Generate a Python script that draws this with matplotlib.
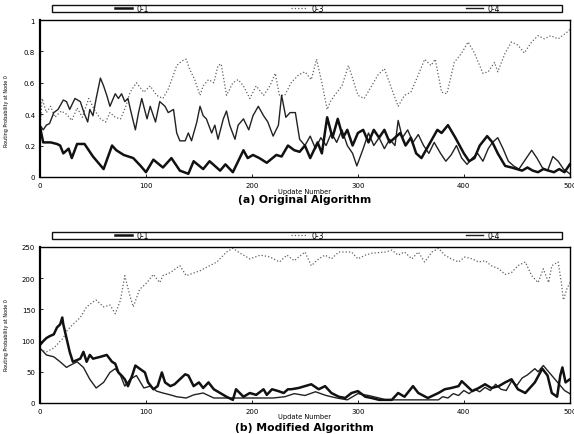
import matplotlib
matplotlib.use('Agg')
import matplotlib.pyplot as plt
from matplotlib.patches import Rectangle
from matplotlib.lines import Line2D

plt.rcParams['font.family'] = ['DejaVu Sans']

# ---------------- data: panel (a) Original Algorithm ----------------
a01_x = [0, 3, 10, 16, 19, 22, 27, 30, 35, 42,
         50, 55, 60, 68, 72, 79, 88, 95, 100, 107,
         116, 124, 132, 140, 145, 154, 160, 170, 175, 182,
         192, 196, 201, 207, 214, 223, 228, 234, 240, 245,
         250, 255, 262, 266, 271, 276, 281, 286, 290, 295,
         300, 305, 310, 315, 320, 325, 330, 335, 340, 345,
         350, 355, 360, 365, 370, 375, 379, 385, 392, 400,
         405, 410, 415, 422, 427, 432, 439, 445, 450, 455,
         460, 465, 470, 475, 480, 485, 490, 495, 500]
a01_y = [0.32, 0.22, 0.22, 0.21, 0.20, 0.15, 0.18, 0.12, 0.21, 0.21,
         0.13, 0.09, 0.05, 0.20, 0.17, 0.14, 0.12, 0.07, 0.03, 0.11,
         0.06, 0.12, 0.04, 0.02, 0.10, 0.05, 0.10, 0.04, 0.08, 0.03,
         0.17, 0.12, 0.14, 0.12, 0.09, 0.14, 0.13, 0.20, 0.17, 0.16,
         0.20, 0.12, 0.22, 0.15, 0.38, 0.25, 0.37, 0.25, 0.30, 0.20,
         0.28, 0.30, 0.22, 0.30, 0.25, 0.30, 0.22, 0.25, 0.28, 0.20,
         0.25, 0.15, 0.12, 0.18, 0.24, 0.30, 0.28, 0.33, 0.25, 0.15,
         0.10, 0.12, 0.20, 0.26, 0.22, 0.15, 0.07, 0.06, 0.05, 0.04,
         0.06, 0.04, 0.03, 0.05, 0.04, 0.03, 0.05, 0.03, 0.08]

a03_x = [0, 2, 6, 10, 14, 20, 25, 30, 35, 40,
         46, 52, 57, 62, 66, 71, 76, 81, 85, 91,
         98, 104, 110, 116, 121, 126, 129, 134, 138, 141,
         146, 151, 154, 159, 164, 168, 171, 176, 182, 187,
         192, 198, 204, 211, 217, 222, 226, 231, 237, 244,
         250, 256, 261, 266, 271, 274, 278, 285, 291, 294,
         300, 306, 313, 319, 325, 332, 338, 344, 350, 357,
         363, 369, 373, 379, 384, 391, 398, 404, 410, 418,
         423, 429, 432, 439, 445, 451, 457, 464, 470, 476,
         482, 489, 497, 500]
a03_y = [0.30, 0.50, 0.41, 0.45, 0.38, 0.42, 0.40, 0.36, 0.44, 0.38,
         0.50, 0.42, 0.37, 0.35, 0.41, 0.38, 0.37, 0.45, 0.54, 0.60,
         0.54, 0.58, 0.52, 0.50, 0.56, 0.65, 0.71, 0.74, 0.75, 0.69,
         0.62, 0.52, 0.58, 0.62, 0.60, 0.71, 0.72, 0.52, 0.60, 0.62,
         0.58, 0.50, 0.58, 0.52, 0.58, 0.66, 0.52, 0.52, 0.60, 0.65,
         0.67, 0.62, 0.75, 0.60, 0.43, 0.48, 0.52, 0.58, 0.71, 0.65,
         0.52, 0.50, 0.58, 0.65, 0.69, 0.56, 0.45, 0.52, 0.54, 0.65,
         0.75, 0.71, 0.75, 0.54, 0.53, 0.73, 0.79, 0.86, 0.79, 0.66,
         0.67, 0.73, 0.67, 0.79, 0.86, 0.84, 0.79, 0.86, 0.90, 0.88,
         0.90, 0.88, 0.92, 0.94]

a04_x = [0, 3, 6, 9, 13, 17, 22, 25, 28, 33,
         38, 42, 45, 47, 50, 53, 57, 60, 63, 66,
         71, 74, 77, 80, 83, 86, 90, 93, 96, 101,
         104, 109, 113, 118, 121, 126, 129, 132, 137, 140,
         143, 148, 151, 154, 157, 162, 165, 168, 173, 176,
         179, 184, 187, 192, 197, 201, 206, 211, 215, 220,
         225, 228, 232, 236, 241, 245, 250, 255, 260, 265,
         270, 275, 280, 285, 290, 295, 299, 305, 310, 315,
         320, 325, 330, 335, 338, 342, 347, 352, 357, 362,
         367, 372, 378, 383, 388, 393, 398, 403, 408, 413,
         418, 423, 427, 432, 437, 442, 447, 452, 457, 464,
         469, 474, 479, 484, 489, 494, 500]
a04_y = [0.33, 0.30, 0.33, 0.34, 0.41, 0.43, 0.49, 0.48, 0.43, 0.50,
         0.48, 0.40, 0.35, 0.43, 0.39, 0.50, 0.63, 0.58, 0.52, 0.45,
         0.53, 0.50, 0.53, 0.48, 0.50, 0.41, 0.30, 0.41, 0.50, 0.37,
         0.45, 0.35, 0.48, 0.45, 0.41, 0.43, 0.28, 0.23, 0.23, 0.28,
         0.23, 0.35, 0.45, 0.39, 0.37, 0.28, 0.33, 0.24, 0.37, 0.42,
         0.33, 0.24, 0.33, 0.37, 0.30, 0.39, 0.45, 0.39, 0.35, 0.26,
         0.33, 0.52, 0.38, 0.41, 0.41, 0.24, 0.20, 0.26, 0.18, 0.25,
         0.20, 0.28, 0.22, 0.30, 0.20, 0.15, 0.07, 0.18, 0.28, 0.20,
         0.25, 0.18, 0.24, 0.20, 0.36, 0.25, 0.30, 0.22, 0.27, 0.20,
         0.15, 0.22, 0.15, 0.10, 0.14, 0.20, 0.12, 0.08, 0.12, 0.15,
         0.10, 0.18, 0.22, 0.25, 0.18, 0.10, 0.07, 0.05, 0.10, 0.17,
         0.12, 0.06, 0.04, 0.13, 0.10, 0.05, 0.02]

# ---------------- data: panel (b) Modified Algorithm ----------------
b01_x = [0, 3, 6, 9, 13, 16, 19, 21, 22, 25,
         28, 31, 38, 41, 44, 47, 50, 57, 63, 68,
         71, 74, 77, 80, 83, 87, 90, 94, 99, 102,
         107, 111, 115, 118, 123, 127, 132, 137, 140, 145,
         150, 154, 159, 164, 170, 176, 182, 185, 192, 198,
         204, 211, 214, 219, 225, 230, 234, 237, 244, 250,
         256, 263, 269, 275, 282, 288, 294, 300, 307, 313,
         320, 326, 332, 338, 344, 352, 357, 366, 376, 382,
         388, 395, 398, 403, 408, 414, 420, 426, 433, 439,
         445, 451, 458, 467, 474, 479, 483, 488, 491, 493,
         496, 500]
b01_y = [93, 99, 104, 107, 110, 121, 126, 137, 126, 104,
         82, 66, 71, 82, 66, 77, 71, 74, 77, 66,
         63, 49, 44, 38, 27, 44, 60, 55, 49, 33,
         22, 27, 49, 33, 27, 30, 38, 46, 44, 27,
         33, 24, 33, 22, 16, 10, 5, 22, 10, 16,
         13, 22, 13, 22, 19, 16, 22, 22, 24, 27,
         30, 22, 27, 16, 10, 8, 16, 19, 10, 8,
         5, 5, 5, 16, 10, 27, 16, 8, 16, 22,
         24, 27, 35, 27, 19, 24, 30, 24, 27, 33,
         38, 22, 16, 33, 55, 44, 16, 10, 44, 57,
         33, 38]

b03_x = [0, 6, 13, 19, 22, 25, 31, 38, 44, 50,
         53, 60, 66, 71, 76, 80, 85, 88, 94, 101,
         107, 113, 116, 123, 132, 138, 151, 167, 176, 182,
         189, 198, 208, 217, 226, 233, 240, 250, 256, 263,
         269, 275, 282, 294, 300, 307, 313, 326, 332, 338,
         344, 351, 357, 363, 370, 376, 382, 388, 395, 401,
         408, 414, 420, 426, 433, 439, 445, 451, 458, 464,
         470, 475, 480, 483, 489, 492, 494, 497, 500]
b03_y = [85, 82, 88, 99, 104, 115, 126, 137, 154, 162,
         165, 154, 157, 143, 165, 204, 171, 154, 182, 193,
         206, 193, 204, 209, 220, 204, 212, 226, 242, 248,
         240, 231, 237, 234, 226, 237, 228, 242, 220, 231,
         237, 231, 242, 242, 231, 237, 240, 242, 245, 237,
         242, 231, 242, 226, 242, 248, 237, 231, 226, 234,
         231, 226, 228, 220, 215, 206, 209, 220, 226, 204,
         193, 215, 193, 220, 226, 193, 165, 182, 193]

b04_x = [0, 6, 13, 19, 25, 28, 35, 41, 47, 53,
         60, 66, 71, 76, 80, 85, 91, 98, 104, 110,
         116, 123, 129, 138, 145, 154, 164, 176, 189, 198,
         210, 220, 231, 240, 250, 260, 270, 280, 290, 300,
         310, 320, 326, 340, 360, 376, 380, 385, 390, 395,
         400, 405, 410, 415, 420, 425, 430, 435, 440, 445,
         450, 455, 460, 467, 470, 475, 480, 485, 490, 495,
         500]
b04_y = [88, 77, 74, 66, 57, 60, 66, 57, 38, 24,
         33, 49, 55, 44, 27, 38, 44, 24, 27, 19,
         16, 13, 10, 8, 13, 16, 8, 8, 8, 8,
         8, 8, 10, 15, 12, 18, 12, 8, 5, 15,
         12, 8, 5, 5, 5, 5, 10, 8, 15, 12,
         20, 15, 22, 18, 25, 20, 30, 22, 20, 35,
         28, 40, 45, 55, 50, 60, 50, 40, 30, 20,
         15]

series_labels = ['0-1', '0-3', '0-4']
x_ticks = [0, 100, 200, 300, 400, 500]
x_ticklabels = ['0', '100', '200', '300', '400', '500']
a_yticks = [0, 0.2, 0.4, 0.6, 0.8, 1.0]
a_yticklabels = ['0', '0.2', '0.4', '0.6', '0.8', '1']
b_yticks = [0, 50, 100, 150, 200, 250]
b_yticklabels = ['0', '50', '100', '150', '200', '250']
xlabel = 'Update Number'
ylabel = 'Routing Probability at Node 0'
titles = ['(a) Original Algorithm', '(b) Modified Algorithm']

# ---------------- figure ----------------
fig = plt.figure(figsize=(5.74, 4.35), dpi=100)
axA = fig.add_axes([0.0697, 0.591, 0.923, 0.3607])
axB = fig.add_axes([0.0697, 0.0713, 0.923, 0.3586])

styles = [dict(color='#111111', lw=1.8, ls='-'),
          dict(color='#606060', lw=0.9, ls=':'),
          dict(color='#222222', lw=1.0, ls='-')]


def draw(ax, data, ylim, yticks, yticklabels):
    for idx in (1, 2, 0):
        xs, ys = data[idx]
        ax.plot(xs, ys, **styles[idx])
    ax.set_xlim(0, 500)
    ax.set_ylim(*ylim)
    ax.set_xticks(x_ticks)
    ax.set_xticklabels(x_ticklabels)
    ax.set_yticks(yticks)
    ax.set_yticklabels(yticklabels)
    ax.tick_params(labelsize=5, length=2, width=0.6, pad=3.5, direction='in')
    for s in ax.spines.values():
        s.set_linewidth(1.0)
    ax.spines['left'].set_linewidth(1.6)
    handles = [Line2D([], [], **styles[i]) for i in range(3)]
    ax.legend(handles, series_labels, loc='center', bbox_to_anchor=(0.505, 1.073),
              ncol=3, frameon=False, fontsize=5.5, handlelength=2.2,
              handletextpad=0.6, columnspacing=18.5, borderaxespad=0)
    ax.add_patch(Rectangle((0.0226, 1.051), 0.962, 0.045, transform=ax.transAxes,
                           fill=False, lw=1.0, edgecolor='#111111', clip_on=False))


draw(axA, [(a01_x, a01_y), (a03_x, a03_y), (a04_x, a04_y)], (0, 1),
     a_yticks, a_yticklabels)
draw(axB, [(b01_x, b01_y), (b03_x, b03_y), (b04_x, b04_y)], (0, 250),
     b_yticks, b_yticklabels)

cx = 0.531
fig.text(cx, 0.5595, xlabel, ha='center', va='center', fontsize=4.8)
fig.text(cx, 0.5405, titles[0], ha='center', va='center', fontsize=7.8, fontweight='bold')
fig.text(cx, 0.0420, xlabel, ha='center', va='center', fontsize=4.8)
fig.text(cx, 0.0165, titles[1], ha='center', va='center', fontsize=7.8, fontweight='bold')
fig.text(0.012, 0.745, ylabel, ha='center', va='center', rotation=90, fontsize=3.5)
fig.text(0.012, 0.230, ylabel, ha='center', va='center', rotation=90, fontsize=3.5)

fig.savefig('out.png', dpi=100)
